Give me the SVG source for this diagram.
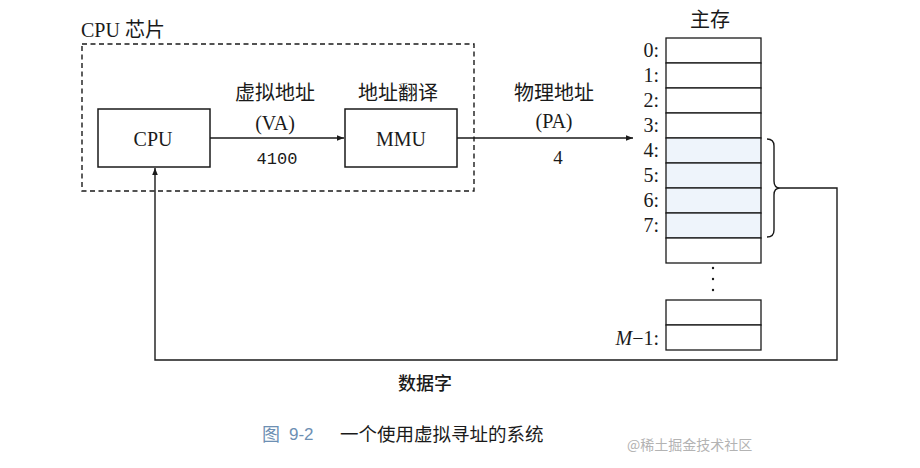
<svg xmlns="http://www.w3.org/2000/svg" width="920" height="468" viewBox="0 0 920 468">
<style>
.serif{font-family:"Liberation Serif","Noto Sans CJK SC",serif;fill:#1a1a1a}
.cjk{font-family:"Noto Sans CJK SC","Liberation Serif",sans-serif;fill:#1a1a1a}
.mono{font-family:"Liberation Mono",monospace;fill:#1a1a1a}
.box{fill:#fff;stroke:#1a1a1a;stroke-width:1.5}
.cell{fill:#fff;stroke:#1a1a1a;stroke-width:1.3}
.hl{fill:#eef4fb;stroke:#1a1a1a;stroke-width:1.3}
.line{fill:none;stroke:#1a1a1a;stroke-width:1.4}
</style>
<defs>
<marker id="ah" viewBox="0 0 10 10" refX="10" refY="5" markerWidth="9" markerHeight="7" markerUnits="userSpaceOnUse" orient="auto">
<path d="M0,1 L10,5 L0,9 Z" fill="#1a1a1a"/>
</marker>
</defs>
<rect width="920" height="468" fill="#fff"/>

<g id="chip">
<rect x="82" y="44" width="392" height="147" fill="none" stroke="#1a1a1a" stroke-width="1.4" stroke-dasharray="5,3.5"/>
<text class="serif" x="81" y="37" font-size="20">CPU 芯片</text>
</g>

<g id="cpu">
<rect class="box" x="98" y="109" width="112" height="58"/>
<text class="serif" x="153" y="146" font-size="20" text-anchor="middle">CPU</text>
</g>

<g id="mmu">
<rect class="box" x="345" y="109" width="112" height="58"/>
<text class="serif" x="401" y="146" font-size="20" text-anchor="middle">MMU</text>
<text class="cjk" x="398" y="100" font-size="20" text-anchor="middle">地址翻译</text>
</g>

<g id="memory">
<text class="cjk" x="710" y="27" font-size="20" text-anchor="middle">主存</text>
<rect class="cell" x="666" y="38" width="95" height="25"/>
<rect class="cell" x="666" y="63" width="95" height="25"/>
<rect class="cell" x="666" y="88" width="95" height="25"/>
<rect class="cell" x="666" y="113" width="95" height="25"/>
<rect class="hl" x="666" y="138" width="95" height="25"/>
<rect class="hl" x="666" y="163" width="95" height="25"/>
<rect class="hl" x="666" y="188" width="95" height="25"/>
<rect class="hl" x="666" y="213" width="95" height="25"/>
<rect class="cell" x="666" y="238" width="95" height="25"/>
<rect class="cell" x="666" y="300" width="95" height="25"/>
<rect class="cell" x="666" y="325" width="95" height="25"/>
<g class="serif" font-size="20" text-anchor="end">
<text x="659" y="57">0:</text>
<text x="659" y="82">1:</text>
<text x="659" y="107">2:</text>
<text x="659" y="132">3:</text>
<text x="659" y="157">4:</text>
<text x="659" y="182">5:</text>
<text x="659" y="207">6:</text>
<text x="659" y="232">7:</text>
<text x="659" y="345"><tspan font-style="italic">M</tspan>−1:</text>
</g>
<circle cx="713" cy="268" r="1.2" fill="#1a1a1a"/>
<circle cx="713" cy="279" r="1.2" fill="#1a1a1a"/>
<circle cx="713" cy="290" r="1.2" fill="#1a1a1a"/>
<path class="line" d="M767,139 Q774,139 774,146 L774,181 Q774,188 780,188 Q774,188 774,195 L774,230 Q774,237 767,237"/>
</g>

<g id="connectors">
<line class="line" x1="210" y1="138" x2="344" y2="138" marker-end="url(#ah)"/>
<line class="line" x1="457" y1="138" x2="633" y2="138" marker-end="url(#ah)"/>
<polyline class="line" points="780,188 837,188 837,360 155,360 155,168" marker-end="url(#ah)"/>
<text class="cjk" x="275" y="100" font-size="20" text-anchor="middle">虚拟地址</text>
<text class="serif" x="275" y="130" font-size="20" text-anchor="middle">(VA)</text>
<text class="mono" x="277" y="164" font-size="17" text-anchor="middle">4100</text>
<text class="cjk" x="554" y="100" font-size="20" text-anchor="middle">物理地址</text>
<text class="serif" x="554" y="128" font-size="20" text-anchor="middle">(PA)</text>
<text class="serif" x="558" y="164" font-size="19" text-anchor="middle">4</text>
<text class="cjk" x="425" y="390" font-size="18" text-anchor="middle" font-weight="500">数据字</text>
</g>

<g id="caption">
<text x="262" y="441" font-size="18" fill="#6d8fb3" font-family="Noto Sans CJK SC,sans-serif">图</text>
<text x="289" y="440" font-size="17" fill="#6d8fb3" font-family="Liberation Sans,sans-serif">9-2</text>
<text x="340" y="441" font-size="18.5" fill="#1a1a1a" font-family="Noto Sans CJK SC,sans-serif">一个使用虚拟寻址的系统</text>
<text x="627" y="450" font-size="14" fill="#b3b3b3" font-family="Noto Sans CJK SC,sans-serif">@稀土掘金技术社区</text>
</g>
</svg>
